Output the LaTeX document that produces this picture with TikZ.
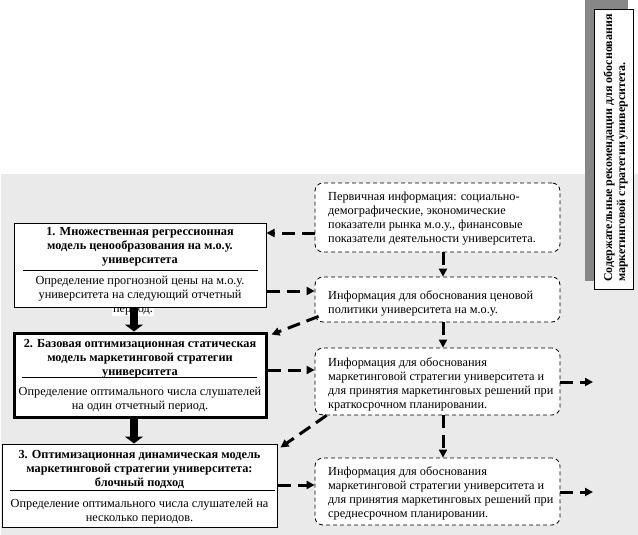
\documentclass[tikz,border=0pt]{standalone}
\usepackage{fontspec}
\setmainfont{Liberation Serif}
\usetikzlibrary{arrows.meta}
\definecolor{bg}{RGB}{234,234,234}
\definecolor{shadowgray}{RGB}{135,135,135}
\begin{document}
\begin{tikzpicture}[x=1pt,y=-1pt,
  txt/.style={font=\fontsize{12.3}{14}\selectfont, inner sep=0pt, align=center},
  ttl/.style={font=\fontsize{12.3}{14}\selectfont\bfseries, inner sep=0pt, align=center},
  lbox/.style={draw, line width=1pt, fill=white, inner sep=0pt},
  rbox/.style={draw, line width=0.8pt, dash pattern=on 4pt off 3pt, rounded corners=8pt, fill=white, inner sep=0pt, minimum width=245pt},
  rtxt/.style={font=\fontsize{12.3}{14}\selectfont, inner sep=0pt, align=left, anchor=west},
  dconn/.style={line width=3pt, dash pattern=on 13pt off 7pt, -{Triangle[length=8pt,width=8pt]}},
  bigarrow/.style={line width=8pt, -{Triangle[length=7pt,width=18pt]}},
  sep/.style={line width=1pt}
]
\useasboundingbox (0,0) rectangle (638,535);
\fill[bg] (1,174) rectangle (638,535);

% side box
\fill[shadowgray] (585,0) rectangle (628,281);
\node[draw, line width=1pt, fill=white, minimum width=39pt, minimum height=279pt, inner sep=0pt] (side) at (613.5,149.5) {};
\node[rotate=90, anchor=west, font=\fontsize{12}{13}\selectfont\bfseries, align=left, inner sep=0pt] (sidetxt) at (615.5,282) {Содержательные рекомендации для обоснования\\маркетинговой стратегии университета.};

% left boxes
\node[txt, fill=white, inner sep=1pt] (b1p) at (133,311) {период.};
\node[lbox, minimum width=252pt, minimum height=84pt] (b1) at (140,265) {};
\node[ttl] (b1t) at (140,247) {1. Множественная регрессионная\\модель ценообразования на м.о.у.\\университета};
\draw[sep] (23,270) -- (258,270);
\node[txt] (b1b) at (140,289) {Определение прогнозной цены на м.о.у.\\университета на следующий отчетный};

\node[lbox, line width=3pt, minimum width=252pt, minimum height=84pt] (b2) at (140,375) {};
\node[ttl] (b2t) at (140,359) {2. Базовая оптимизационная статическая\\модель маркетинговой стратегии\\университета};
\draw[sep] (22,377) -- (257,377);
\node[txt] (b2b) at (140,400) {Определение оптимального числа слушателей\\на один отчетный период.};

\node[lbox, minimum width=275pt, minimum height=83pt] (b3) at (139.5,485.5) {};
\node[ttl] (b3t) at (139.5,469) {3. Оптимизационная динамическая модель\\маркетинговой стратегии университета:\\блочный подход};
\draw[sep] (10,490) -- (275,490);
\node[txt] (b3b) at (139.5,511.5) {Определение оптимального числа слушателей на\\несколько периодов.};

% right boxes
\node[rbox, minimum height=69pt] (r1) at (437.5,217.5) {};
\node[rtxt] (r1t) at (328,219) {Первичная информация: социально-\\демографические, экономические\\показатели рынка м.о.у., финансовые\\показатели деятельности университета.};
\node[rbox, minimum height=45pt] (r2) at (437.5,299.5) {};
\node[rtxt] (r2t) at (328,303) {Информация для обоснования ценовой\\политики университета на м.о.у.};
\node[rbox, minimum height=67pt] (r3) at (437.5,381.5) {};
\node[rtxt] (r3t) at (328,384) {Информация для обоснования\\маркетинговой стратегии университета и\\для принятия маркетинговых решений при\\краткосрочном планировании.};
\node[rbox, minimum height=67pt] (r4) at (437.5,491.5) {};
\node[rtxt] (r4t) at (328,493) {Информация для обоснования\\маркетинговой стратегии университета и\\для принятия маркетинговых решений при\\среднесрочном планировании.};

% level coordinates
\coordinate (ya) at (0,233);
\coordinate (yb) at (0,291);
\coordinate (yc) at (0,370);
\coordinate (yd) at (0,485);
\coordinate (ye) at (0,382);
\coordinate (yf) at (0,492);
\coordinate (xv) at (443,0);
\coordinate (xa) at (134,0);
\coordinate (o1) at (593,382);
\coordinate (o2) at (593,492);

% thick arrows
\draw[bigarrow] (b1.south -| xa) -- (b2.north -| xa);
\draw[bigarrow] (b2.south -| xa) -- (b3.north -| xa);

% dashed connectors
\draw[dconn] (r1.west |- ya) -- (b1.east |- ya);
\draw[dconn] (b1.east |- yb) -- (r2.west |- yb);
\draw[dconn] ([xshift=4pt,yshift=6pt]r2.south west) -- ([xshift=4pt,yshift=-3pt]b2.north east);
\draw[dconn] (b2.east |- yc) -- (r3.west |- yc);
\draw[dconn] ([xshift=12pt]r3.south west) -- ([xshift=3pt,yshift=-4pt]b3.north east);
\draw[dconn] (b3.east |- yd) -- (r4.west |- yd);
\draw[dconn] (r1.south -| xv) -- (r2.north -| xv);
\draw[dconn] (r2.south -| xv) -- (r3.north -| xv);
\draw[dconn] (r3.south -| xv) -- (r4.north -| xv);
\draw[dconn] (r3.east |- ye) -- (o1);
\draw[dconn] (r4.east |- yf) -- (o2);
\end{tikzpicture}
\end{document}
